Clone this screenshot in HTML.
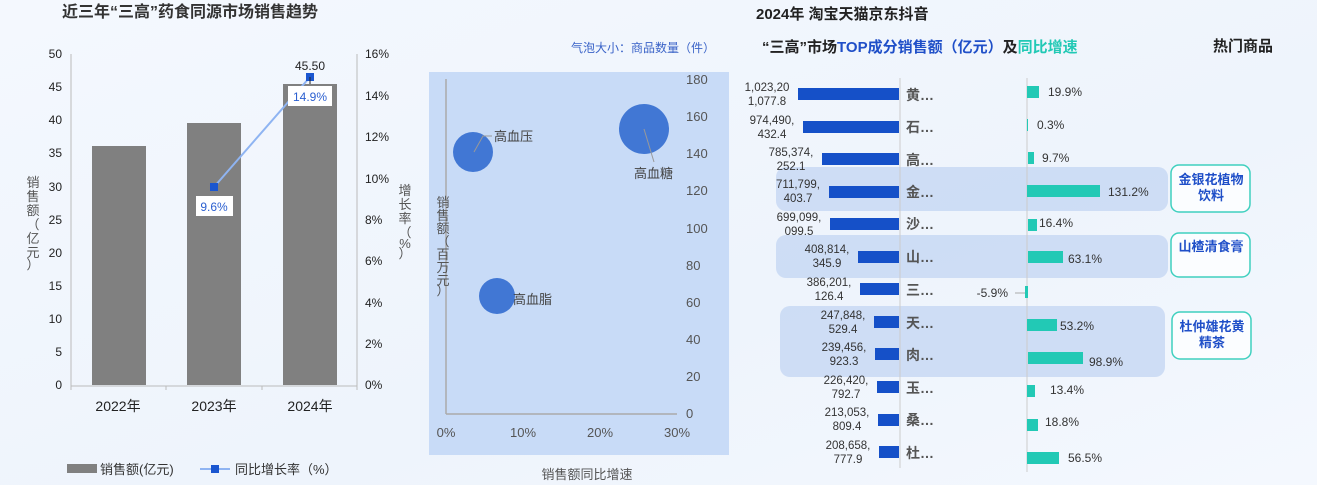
<!DOCTYPE html>
<html><head><meta charset="utf-8"><style>
html,body{margin:0;padding:0;background:#f3f7fd;}
svg{display:block;font-family:"Liberation Sans","Noto Sans CJK SC",sans-serif;}
</style></head><body>
<svg width="1317" height="485" viewBox="0 0 1317 485">
<defs><linearGradient id="bg" x1="0" y1="0" x2="1" y2="1"><stop offset="0" stop-color="#f4f8fe"/><stop offset="0.6" stop-color="#eef4fc"/><stop offset="1" stop-color="#f4f8fe"/></linearGradient></defs>
<rect width="1317" height="485" fill="url(#bg)"/>
<!-- LEFT -->
<text x="62" y="17" font-size="16" font-weight="bold" fill="#333">近三年“三高”药食同源市场销售趋势</text>
<g font-size="12" fill="#222" text-anchor="end">
<text x="62" y="58">50</text><text x="62" y="91">45</text><text x="62" y="124">40</text><text x="62" y="157">35</text><text x="62" y="191">30</text><text x="62" y="224">25</text><text x="62" y="257">20</text><text x="62" y="290">15</text><text x="62" y="323">10</text><text x="62" y="356">5</text><text x="62" y="389">0</text>
</g>
<g stroke="#bbb" stroke-width="1">
<line x1="71" y1="54" x2="71" y2="386"/><line x1="71" y1="386" x2="357" y2="386"/>
<line x1="357" y1="54" x2="357" y2="390"/>
<line x1="71" y1="386" x2="71" y2="390"/><line x1="166" y1="386" x2="166" y2="390"/><line x1="262" y1="386" x2="262" y2="390"/>
</g>
<g font-size="12" fill="#222">
<text x="365" y="58">16%</text><text x="365" y="100">14%</text><text x="365" y="141">12%</text><text x="365" y="183">10%</text><text x="365" y="224">8%</text><text x="365" y="265">6%</text><text x="365" y="307">4%</text><text x="365" y="348">2%</text><text x="365" y="389">0%</text>
</g>
<rect x="92" y="146" width="54" height="239" fill="#808080"/>
<rect x="187" y="123" width="54" height="262" fill="#808080"/>
<rect x="283" y="84" width="54" height="301" fill="#808080"/>
<g font-size="14" fill="#222" text-anchor="middle"><text x="118" y="411">2022年</text><text x="214" y="411">2023年</text><text x="310" y="411">2024年</text></g>
<line x1="214" y1="187" x2="310" y2="77" stroke="#8fb4f2" stroke-width="2"/>
<rect x="210" y="183" width="8" height="8" fill="#1a56d0"/><rect x="306" y="73" width="8" height="8" fill="#1a56d0"/>
<line x1="310" y1="77" x2="310" y2="84" stroke="#222"/>
<text x="310" y="70" font-size="12" fill="#222" text-anchor="middle">45.50</text>
<rect x="196" y="196" width="37" height="20" fill="#fff"/><text x="214" y="211" font-size="12" fill="#2b5fd0" text-anchor="middle">9.6%</text>
<rect x="288" y="86" width="44" height="20" fill="#fff"/><text x="310" y="101" font-size="12" fill="#2b5fd0" text-anchor="middle">14.9%</text>
<g font-size="13" fill="#555" text-anchor="middle">
<text x="33" y="187">销</text><text x="33" y="201">售</text><text x="33" y="215">额</text><text x="33" y="229">（</text><text x="33" y="243">亿</text><text x="33" y="257">元</text><text x="33" y="269">）</text>
<text x="405" y="195">增</text><text x="405" y="209">长</text><text x="405" y="223">率</text><text x="405" y="237">（</text><text x="405" y="248">%</text><text x="405" y="258">）</text>
</g>
<rect x="67" y="464" width="30" height="9" fill="#808080"/>
<text x="100" y="474" font-size="13" fill="#333">销售额(亿元)</text>
<line x1="200" y1="469" x2="230" y2="469" stroke="#8fb4f2" stroke-width="2"/><rect x="211" y="465" width="8" height="8" fill="#1a56d0"/>
<text x="235" y="474" font-size="13" fill="#333">同比增长率（%）</text>
<!-- MIDDLE -->
<text x="715" y="52" font-size="12" fill="#3a63c8" text-anchor="end">气泡大小：商品数量（件）</text>
<rect x="429" y="72" width="300" height="383" fill="#c8dbf7"/>
<line x1="446" y1="79" x2="446" y2="414" stroke="#aaa" stroke-width="1.5"/><line x1="446" y1="414" x2="677" y2="414" stroke="#aaa" stroke-width="1.5"/>
<g font-size="13" fill="#555">
<text x="686" y="84">180</text><text x="686" y="121">160</text><text x="686" y="158">140</text><text x="686" y="195">120</text><text x="686" y="233">100</text><text x="686" y="270">80</text><text x="686" y="307">60</text><text x="686" y="344">40</text><text x="686" y="381">20</text><text x="686" y="418">0</text>
</g>
<g font-size="13" fill="#555" text-anchor="middle"><text x="446" y="437">0%</text><text x="523" y="437">10%</text><text x="600" y="437">20%</text><text x="677" y="437">30%</text></g>
<circle cx="473" cy="152" r="20" fill="#4177d4"/><circle cx="644" cy="129" r="25" fill="#4177d4"/><circle cx="497" cy="296" r="18" fill="#4177d4"/>
<polyline points="474,152 483,136 492,136" fill="none" stroke="#999"/><line x1="644" y1="129" x2="654" y2="162" stroke="#999"/>
<g font-size="13" fill="#444"><text x="494" y="141">高血压</text><text x="634" y="178">高血糖</text><text x="513" y="304">高血脂</text></g>
<text x="587" y="479" font-size="13" fill="#555" text-anchor="middle">销售额同比增速</text>
<g font-size="13" fill="#555" text-anchor="middle">
<text x="443" y="207">销</text><text x="443" y="220">售</text><text x="443" y="233">额</text><text x="443" y="246">（</text><text x="443" y="259">百</text><text x="443" y="272">万</text><text x="443" y="285">元</text><text x="443" y="295">）</text>
</g>
<!-- RIGHT -->
<text x="756" y="19" font-size="15" font-weight="bold" fill="#222">2024年 淘宝天猫京东抖音</text>
<text x="762" y="52" font-size="15" font-weight="bold" fill="#222">“三高”市场<tspan fill="#1f4fc8">TOP成分销售额（亿元）</tspan>及<tspan fill="#22c9b5">同比增速</tspan></text>
<text x="1213" y="51" font-size="15" font-weight="bold" fill="#222">热门商品</text>
<rect x="776" y="167" width="392" height="44" rx="10" fill="#b8cdf0" opacity="0.6"/>
<rect x="776" y="235" width="392" height="43" rx="10" fill="#b8cdf0" opacity="0.6"/>
<rect x="780" y="306" width="385" height="71" rx="10" fill="#b8cdf0" opacity="0.6"/>
<line x1="900" y1="78" x2="900" y2="468" stroke="#ccc"/><line x1="1027" y1="78" x2="1027" y2="472" stroke="#ccc"/>
<g fill="#1550c8">
<rect x="798" y="88" width="101" height="12"/><rect x="803" y="121" width="96" height="12"/><rect x="822" y="153" width="77" height="12"/><rect x="829" y="186" width="70" height="12"/><rect x="830" y="218" width="69" height="12"/><rect x="858" y="251" width="41" height="12"/><rect x="860" y="283" width="39" height="12"/><rect x="874" y="316" width="25" height="12"/><rect x="875" y="348" width="24" height="12"/><rect x="877" y="381" width="22" height="12"/><rect x="878" y="414" width="21" height="12"/><rect x="879" y="446" width="20" height="12"/>
</g>
<g font-size="11.5" fill="#333" text-anchor="middle">
<text x="767" y="91">1,023,20</text><text x="767" y="105">1,077.8</text>
<text x="772" y="124">974,490,</text><text x="772" y="138">432.4</text>
<text x="791" y="156">785,374,</text><text x="791" y="170">252.1</text>
<text x="798" y="188">711,799,</text><text x="798" y="202">403.7</text>
<text x="799" y="221">699,099,</text><text x="799" y="235">099.5</text>
<text x="827" y="253">408,814,</text><text x="827" y="267">345.9</text>
<text x="829" y="286">386,201,</text><text x="829" y="300">126.4</text>
<text x="843" y="319">247,848,</text><text x="843" y="333">529.4</text>
<text x="844" y="351">239,456,</text><text x="844" y="365">923.3</text>
<text x="846" y="384">226,420,</text><text x="846" y="398">792.7</text>
<text x="847" y="416">213,053,</text><text x="847" y="430">809.4</text>
<text x="848" y="449">208,658,</text><text x="848" y="463">777.9</text>
</g>
<g font-size="14" font-weight="bold" fill="#555">
<text x="906" y="100">黄…</text><text x="906" y="132">石…</text><text x="906" y="165">高…</text><text x="906" y="197">金…</text><text x="906" y="229">沙…</text><text x="906" y="262">山…</text><text x="906" y="295">三…</text><text x="906" y="328">天…</text><text x="906" y="360">肉…</text><text x="906" y="393">玉…</text><text x="906" y="425">桑…</text><text x="906" y="458">杜…</text>
</g>
<g fill="#22c9b5">
<rect x="1027" y="86" width="12" height="12"/><rect x="1027" y="119" width="1" height="12"/><rect x="1028" y="152" width="6" height="12"/><rect x="1027" y="185" width="73" height="12"/><rect x="1028" y="219" width="9" height="12"/><rect x="1028" y="251" width="35" height="12"/><rect x="1025" y="286" width="3" height="12"/><rect x="1027" y="319" width="30" height="12"/><rect x="1028" y="352" width="55" height="12"/><rect x="1027" y="385" width="8" height="12"/><rect x="1027" y="419" width="11" height="12"/><rect x="1027" y="452" width="32" height="12"/>
</g>
<g font-size="12" fill="#333">
<text x="1048" y="96">19.9%</text><text x="1037" y="129">0.3%</text><text x="1042" y="162">9.7%</text><text x="1108" y="196">131.2%</text><text x="1039" y="227">16.4%</text><text x="1068" y="263">63.1%</text><text x="1008" y="297" text-anchor="end">-5.9%</text><text x="1060" y="330">53.2%</text><text x="1089" y="366">98.9%</text><text x="1050" y="394">13.4%</text><text x="1045" y="426">18.8%</text><text x="1068" y="462">56.5%</text>
</g>
<line x1="1015" y1="293" x2="1025" y2="293" stroke="#aaa"/>
<g fill="#fbfdff" stroke="#3fd0bf" stroke-width="1.5">
<rect x="1171" y="165" width="79" height="47" rx="8"/><rect x="1171" y="233" width="79" height="44" rx="8"/><rect x="1172" y="312" width="79" height="47" rx="8"/>
</g>
<g font-size="13" font-weight="bold" fill="#1f4fc8" text-anchor="middle">
<text x="1211" y="184">金银花植物</text><text x="1211" y="200">饮料</text>
<text x="1211" y="251">山楂清食膏</text>
<text x="1212" y="331">杜仲雄花黄</text><text x="1212" y="347">精茶</text>
</g>
</svg>
</body></html>
